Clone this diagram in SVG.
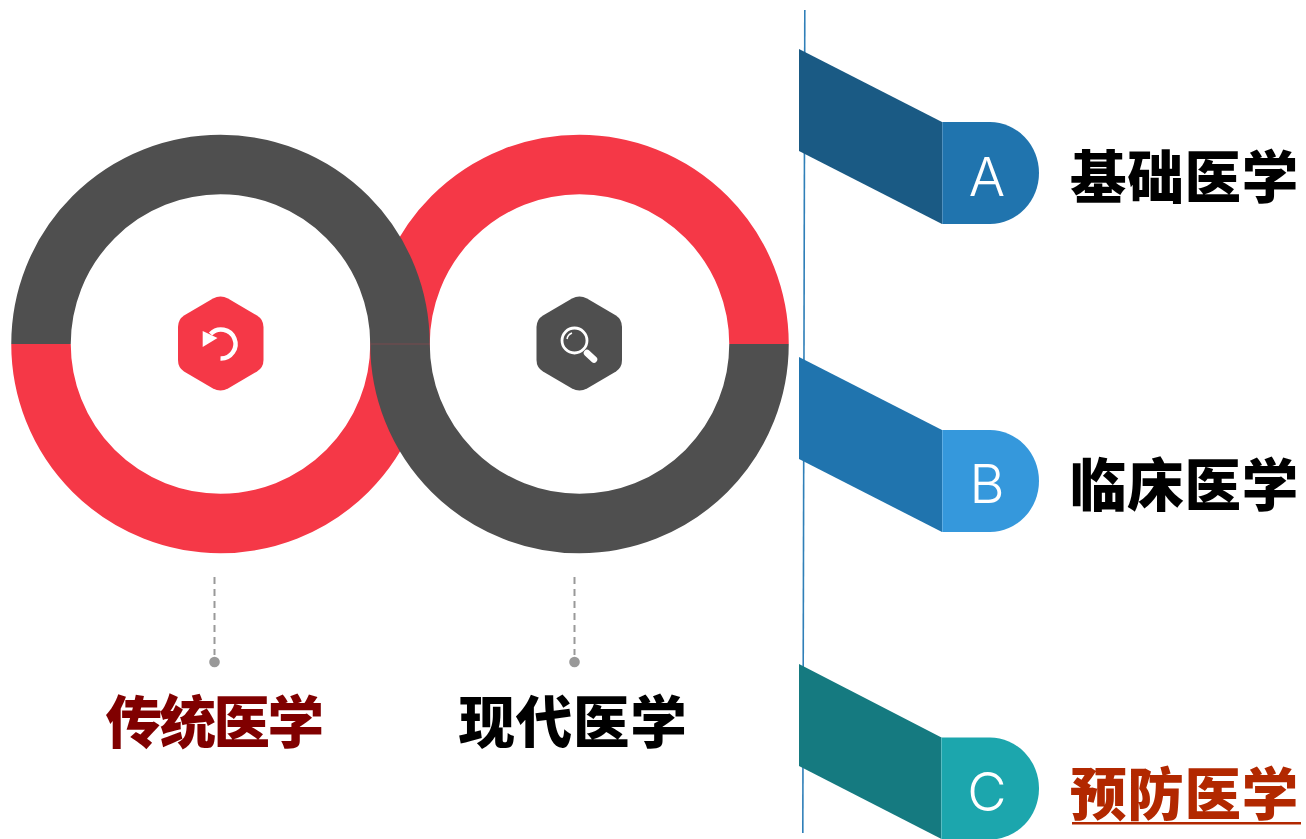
<svg xmlns="http://www.w3.org/2000/svg" width="1306" height="839" viewBox="0 0 1306 839">
<style>
.t{font-family:"Noto Sans CJK SC","Liberation Sans",sans-serif;font-weight:900;font-size:56.500px;letter-spacing:.8px;text-anchor:middle}
.tight{letter-spacing:-2.500px}
.l{font-family:"Inter","Liberation Sans",sans-serif;font-weight:300;font-size:54px;fill:#fff;text-anchor:middle}
.arc{fill:none;stroke-width:59.5}
.red{stroke:#f53847}.gray{stroke:#4f4f4f}
.dash{stroke:#999;stroke-width:2;stroke-dasharray:7 5;fill:none}
.ic{fill:none;stroke:#fff;stroke-linecap:butt}
</style>
<rect width="1306" height="839" fill="#fff"/>
<g id="connectors">
<path d="M804.8 10L802.8 833" stroke="#2f7fb8" stroke-width="1.6" fill="none"/>
<path class="dash" d="M214.500 577V655"/>
<path class="dash" d="M574.500 577V655"/>
<circle cx="214.500" cy="662" r="5.300" fill="#999"/>
<circle cx="574.500" cy="662" r="5.300" fill="#999"/>
</g>
<g id="ring-left-red"><path class="arc red" d="M41 344A179.500 179.500 0 0 0 400 344"/></g>
<g id="ring-right-red"><path class="arc red" d="M400 344A179.500 179.500 0 0 1 759 344"/></g>
<g id="ring-left-gray"><path class="arc gray" d="M41 344A179.500 179.500 0 0 1 400 344"/></g>
<g id="ring-right-gray"><path class="arc gray" d="M400 344A179.500 179.500 0 0 0 759 344"/></g>
<path d="M371 344H430" stroke="#f53847" stroke-width="0.500" stroke-opacity="0.500" fill="none"/>
<g id="icon-left">
<path d="M213 298.500Q220.500 294.500 228 298.500L257 315.500Q263.500 319.500 263.500 327V360Q263.500 367.500 257 371.500L228 388.500Q220.500 392.500 213 388.500L184 371.500Q178 367.500 178 360V327Q178 319.500 184 315.500Z" fill="#f53847"/>
<path class="ic" stroke-width="4.500" d="M210.500 334A14.500 14.500 0 1 1 220.500 358.500"/>
<path d="M202.700 331V347L217.500 338Z" fill="#fff"/>
</g>
<g id="icon-right">
<path d="M572 298.500Q579.500 294.500 587 298.500L616 315.500Q622 319.500 622 327V360Q622 367.500 616 371.500L587 388.500Q579.500 392.500 572 388.500L543 371.500Q536.500 367.500 536.500 360V327Q536.500 319.500 543 315.500Z" fill="#4f4f4f"/>
<circle class="ic" cx="574.500" cy="340.500" r="12.500" stroke-width="2.800"/>
<path class="ic" stroke-width="1.500" d="M567 339A8 8 0 0 1 572 333"/>
<path d="M587 353L594 359.500" stroke="#fff" stroke-width="6.500" stroke-linecap="round" fill="none"/>
</g>
<g id="label-traditional"><text class="t tight" x="213.500" y="743" fill="#800000">传统医学</text></g>
<g id="label-modern"><text class="t" x="573" y="743" fill="#000">现代医学</text></g>
<g id="node-a">
<path d="M799 49L942 122V224L799 151Z" fill="#1a5a84"/>
<path d="M942 122H990A49 51 0 0 1 990 224H942Z" fill="#2074ae"/>
<path d="M942.500 122V224" stroke="#5d97c2" stroke-width="0.800"/>
<text class="l" x="987" y="196">A</text>
<text class="t" x="1184.500" y="198" fill="#000">基础医学</text>
</g>
<g id="node-b">
<path d="M799 357L942 430V532L799 459Z" fill="#2074ae"/>
<path d="M942 430H990A49 51 0 0 1 990 532H942Z" fill="#3598dc"/>
<path d="M942.500 430V532" stroke="#6bb2e4" stroke-width="0.800"/>
<text class="l" x="987" y="503">B</text>
<text class="t" x="1184.500" y="506" fill="#000">临床医学</text>
</g>
<g id="node-c">
<path d="M799 664L941.500 737.500V839L799 766Z" fill="#157a80"/>
<path d="M941.500 737.500H990A49 51 0 0 1 990 839.500H941.500Z" fill="#1ca6ad"/>
<path d="M941.500 738V839" stroke="#5cbfc4" stroke-width="0.800"/>
<text class="l" x="987" y="811">C</text>
<text class="t" x="1184.500" y="815" fill="#b22800">预防医学</text>
<rect x="1072" y="822" width="229" height="2.500" fill="#b22800"/>
</g>
</svg>
